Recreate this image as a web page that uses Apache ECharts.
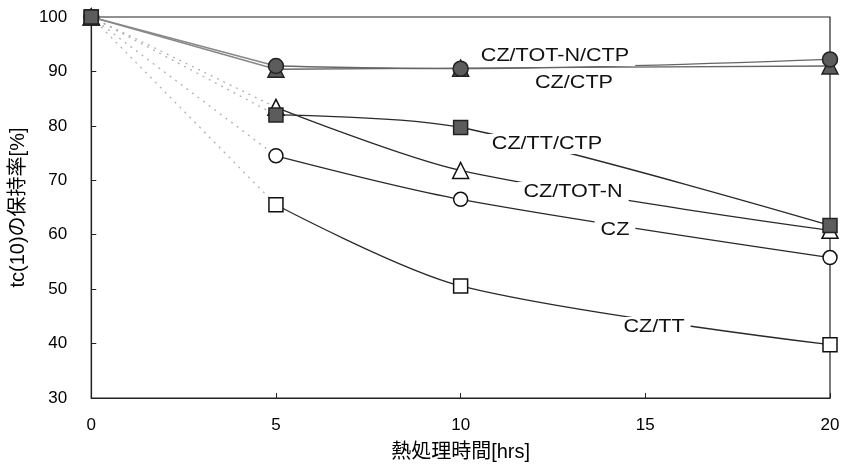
<!DOCTYPE html>
<html><head><meta charset="utf-8">
<script src="https://cdn.jsdelivr.net/npm/echarts@6/dist/echarts.min.js"></script>
<style>html,body{margin:0;padding:0;background:#fff}#c{width:845px;height:467px}</style>
</head><body><div id="c"></div>
<script>
// ---- data ----
const hours = [0, 5, 10, 20];
const xTickLabels = ['0', '5', '10', '15', '20'];
const yTickLabels = ['30', '40', '50', '60', '70', '80', '90', '100'];
const seriesNames = ['CZ/TOT-N', 'CZ', 'CZ/TT', 'CZ/CTP', 'CZ/TOT-N/CTP', 'CZ/TT/CTP'];
const czTotN    = [100, 83.4, 71.8, 60.8];
const cz        = [100, 74.5, 66.5, 55.8];
const czTt      = [100, 65.5, 50.6, 39.8];
const czCtp     = [100, 90.4, 90.6, 91.0];
const czTotNCtp = [100, 91.0, 90.5, 92.2];
const czTtCtp   = [100, 82.0, 79.7, 61.7];
const xAxisTitle = '熱処理時間[hrs]';
const yAxisTitle = 'tc(10)の保持率[%]';

// ---- styles (not data) ----
const values = [czTotN, cz, czTt, czCtp, czTotNCtp, czTtCtp];
const markerStyle = {
  'CZ/TOT-N':     {symbol: 'triangle', size: 16, fill: '#fff', border: '#111'},
  'CZ/TT/CTP':    {symbol: 'rect', size: 14, fill: '#5c5c5c', border: '#222'},
  'CZ/CTP':       {symbol: 'triangle', size: 16, fill: '#5c5c5c', border: '#222'},
  'CZ/TOT-N/CTP': {symbol: 'circle', size: 15, fill: '#5c5c5c', border: '#222'},
  'CZ':           {symbol: 'circle', size: 14, fill: '#fff', border: '#111'},
  'CZ/TT':        {symbol: 'rect', size: 14, fill: '#fff', border: '#111'}
};
const topGroup = ['CZ/CTP', 'CZ/TOT-N/CTP'];
const labelLayout = [
  {text: 'CZ/TOT-N/CTP', x: 555, y: 56},
  {text: 'CZ/CTP', x: 574, y: 83},
  {text: 'CZ/TT/CTP', x: 547, y: 144},
  {text: 'CZ/TOT-N', x: 573, y: 192},
  {text: 'CZ', x: 615, y: 230},
  {text: 'CZ/TT', x: 654, y: 327}
];
const FONT = '"Liberation Sans", "Noto Sans CJK JP", Arial, sans-serif';

const series = [];
seriesNames.forEach((name, i) => {
  const pts = hours.map((h, j) => [h, values[i][j]]);
  const isTop = topGroup.includes(name);
  series.push({
    type: 'line', name: name + ' lead', data: pts.slice(0, 2), showSymbol: false, silent: true,
    lineStyle: isTop ? {color: '#888', width: 1.6, type: 'solid'} : {color: '#b0b0b0', width: 1.3, type: [2, 5]},
    z: 2
  });
  series.push({
    type: 'line', name: name + ' tail', data: pts.slice(1), showSymbol: false, smooth: 0.3, silent: true,
    lineStyle: {color: isTop ? '#666' : '#2a2a2a', width: 1.3},
    z: 2
  });
});
seriesNames.forEach((name, i) => {
  const m = markerStyle[name];
  series.push({
    type: 'scatter', name: name, data: hours.map((h, j) => [h, values[i][j]]),
    symbol: m.symbol, symbolSize: m.size, clip: false,
    itemStyle: {color: m.fill, borderColor: m.border, borderWidth: 1.5, opacity: 1},
    z: 5 + i
  });
});

const chart = echarts.init(document.getElementById('c'), null, {renderer: 'canvas'});
chart.setOption({
  backgroundColor: '#fff',
  animation: false,
  textStyle: {fontFamily: FONT},
  grid: {left: 88, right: 15, top: 17, bottom: 68, show: true, borderColor: '#222', borderWidth: 1.2, backgroundColor: '#fff'},
  xAxis: {
    type: 'value', min: 0, max: 20, interval: 5,
    name: xAxisTitle, nameLocation: 'middle', nameGap: 44,
    nameTextStyle: {fontSize: 20, color: '#000', fontFamily: FONT},
    axisLine: {show: true, lineStyle: {color: '#222', width: 1.2}},
    axisTick: {show: true, inside: true, length: 5, lineStyle: {color: '#222'}},
    axisLabel: {fontSize: 17, color: '#000', margin: 19, fontFamily: FONT,
      formatter: v => xTickLabels[xTickLabels.indexOf(String(v))] || ''},
    splitLine: {show: false}
  },
  yAxis: {
    type: 'value', min: 30, max: 100, interval: 10,
    name: yAxisTitle, nameLocation: 'middle', nameGap: 56, nameRotate: 90,
    nameTextStyle: {fontSize: 20, color: '#000', fontFamily: FONT},
    axisLine: {show: true, lineStyle: {color: '#222', width: 1.2}},
    axisTick: {show: true, inside: true, length: 5, lineStyle: {color: '#222'}},
    axisLabel: {fontSize: 17, color: '#000', margin: 24, fontFamily: FONT,
      formatter: v => yTickLabels[yTickLabels.indexOf(String(v))] || ''},
    splitLine: {show: false}
  },
  series: series,
  graphic: labelLayout.map(l => ({
    type: 'text', x: l.x, y: l.y, scaleX: 1.2, z: 50,
    style: {text: l.text, font: '18px ' + FONT, fill: '#111', align: 'center', verticalAlign: 'middle',
      backgroundColor: '#fff', padding: [1, 5]}
  }))
});
</script></body></html>
